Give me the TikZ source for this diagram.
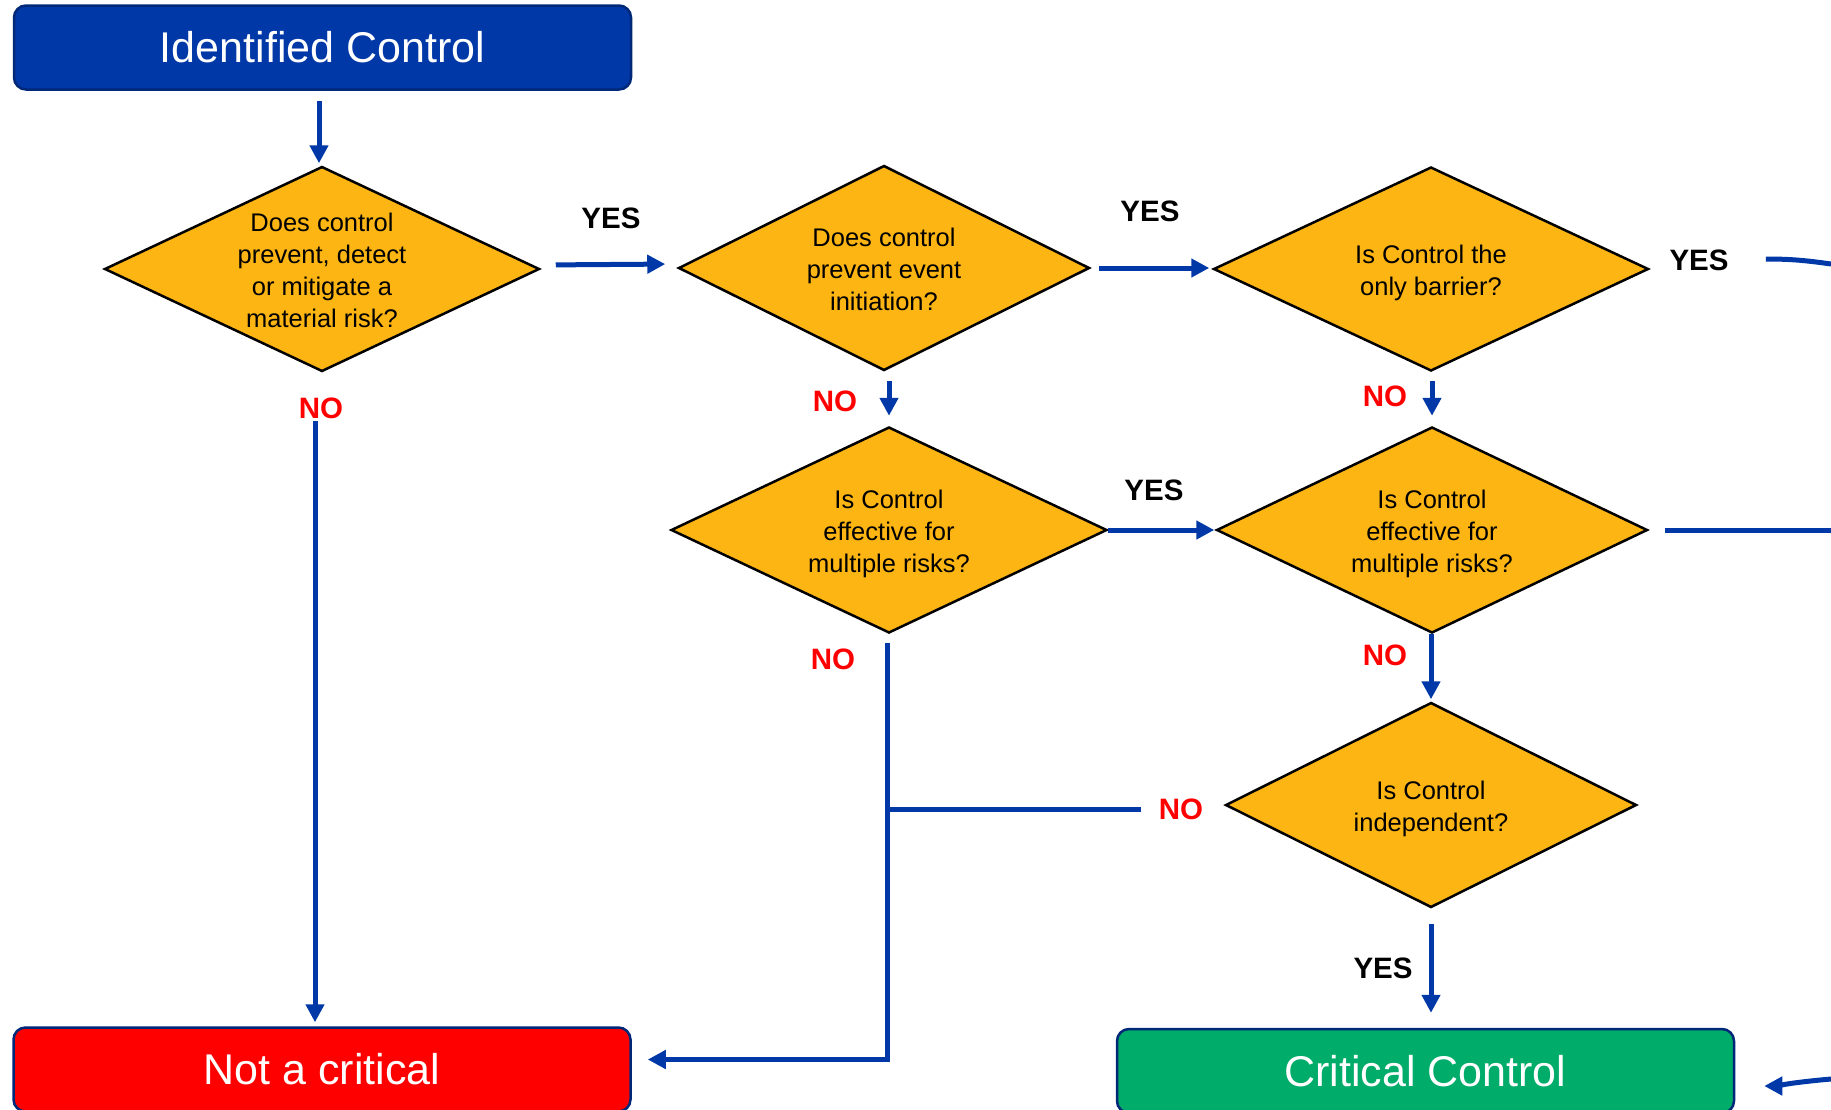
\documentclass[tikz,border=0pt]{standalone}
\usepackage{fontspec}
\setmainfont{Liberation Sans}
\usetikzlibrary{shapes.geometric,arrows.meta,calc}
\definecolor{cblue}{RGB}{0,56,168}
\definecolor{carrow}{RGB}{0,56,168}
\definecolor{corange}{RGB}{253,181,20}
\definecolor{cred}{RGB}{255,0,0}
\definecolor{cgreen}{RGB}{0,172,105}
\definecolor{cborder}{RGB}{0,40,120}
\begin{document}
\begin{tikzpicture}[x=1pt,y=-1pt,
 box/.style={rectangle, rounded corners=12pt, draw=cborder, line width=2.5pt, minimum width=617pt, minimum height=84pt, inner sep=0pt, text=white, font=\fontsize{43}{50}\selectfont},
 dia/.style={diamond, draw=black, line width=2.5pt, fill=corange, inner sep=0pt},
 dtext/.style={align=center, font=\fontsize{25.5}{32}\selectfont, inner sep=0pt},
 conn/.style={draw=carrow, line width=5pt},
 arr/.style={conn, -{Triangle[length=18pt,width=18pt]}},
 yes/.style={font=\fontsize{29.5}{32}\selectfont\bfseries, inner sep=0pt},
 no/.style={yes, text=cred},
]
\useasboundingbox (0,0) rectangle (1831,1109);

% boxes
\node[box, fill=cblue] (top) at (322.5,47.5) {Identified Control};
\node[box, fill=cred] (ncrit) at (322,1069.5) {Not a critical};
\node[box, fill=cgreen] (crit) at (1425.5,1071) {Critical Control};

% diamonds
\node[dia, minimum width=435pt, minimum height=205pt] (d1) at (322,269) {};
\node[dtext] (t1) at ($(d1)+(0,1)$) {Does control\\prevent, detect\\or mitigate a\\material risk?};
\node[dia, minimum width=411pt, minimum height=205pt] (d2) at (884,268) {};
\node[dtext] (t2) at ($(d2)+(0,1)$) {Does control\\prevent event\\initiation?};
\node[dia, minimum width=435pt, minimum height=204pt] (d3) at (1431,269) {};
\node[dtext] (t3) at ($(d3)+(0,4)$) {Is Control the\\only barrier?};
\node[dia, minimum width=436pt, minimum height=206pt] (d4) at (889,530) {};
\node[dtext] (t4) at ($(d4)+(0,4)$) {Is Control\\effective for\\multiple risks?};
\node[dia, minimum width=431pt, minimum height=206pt] (d5) at (1432,530) {};
\node[dtext] (t5) at ($(d5)+(0,4)$) {Is Control\\effective for\\multiple risks?};
\node[dia, minimum width=411pt, minimum height=205pt] (d6) at (1431,805) {};
\node[dtext] (t6) at ($(d6)+(0,4)$) {Is Control\\independent?};

% free ends
\coordinate (j) at ($(d4.south |- d6.west)+(-2,4)$);
\coordinate (e1) at (1831,264);
\coordinate (e2) at (1831,530);
\coordinate (e3) at (1831,1079);

% connectors
\draw[arr, shorten <=10pt, shorten >=2pt] ([xshift=-3pt]top.south -| d1.north) -- ([xshift=-3pt]d1.north);
\draw[arr, shorten <=15pt, shorten >=12pt] ($(d1.east)+(0,-4)$) -- ($(d2.west)+(0,-4)$);
\draw[arr, shorten <=8pt, shorten >=3pt] (d2.east) -- (d2.east -| d3.west);
\draw[conn] ($(d3.east)+(116,-10)$) to[out=0,in=172] (e1);
\draw[arr, shorten <=9pt, shorten >=10pt] (d2.south -| d4.north) -- (d4.north);
\draw[arr, shorten <=9pt, shorten >=10pt] (d3.south -| d5.north) -- (d5.north);
\draw[arr, shorten >=1pt] (d4.east) -- (d4.east -| d5.west);
\draw[conn, shorten <=16pt] (d5.east) -- (e2);
\draw[arr, shorten >=2pt] (d5.south -| d6.north) -- (d6.north);
\draw[arr, shorten <=15pt, shorten >=15pt] (d6.south) -- (d6.south |- crit.north);
\draw[arr, shorten <=48pt, shorten >=4pt] ([xshift=-7pt]d1.south) -- ([xshift=-7pt]d1.south |- ncrit.north);
\draw[conn, shorten <=83pt] (d6.west |- j) -- (j);
\draw[arr, shorten <=9pt, shorten >=16pt] (d4.south -| j) |- ($(ncrit.east)+(0,-10)$);
\draw[arr, shorten >=29pt] (e3) to[out=185,in=0] ($(crit.east)+(0,15)$);

% labels
\node[yes] (y1) at (611,218) {YES};
\node[yes] (y2) at (1150,211) {YES};
\node[yes] (y3) at (1699,260) {YES};
\node[yes] (y4) at (1154,490) {YES};
\node[yes] (y5) at (1383,968) {YES};
\node[no] (n1) at (321,408) {NO};
\node[no] (n2) at (835,401) {NO};
\node[no] (n3) at (1385,396) {NO};
\node[no] (n4) at (833,659) {NO};
\node[no] (n5) at (1385,655) {NO};
\node[no] (n6) at (1181,809) {NO};
\end{tikzpicture}
\end{document}
